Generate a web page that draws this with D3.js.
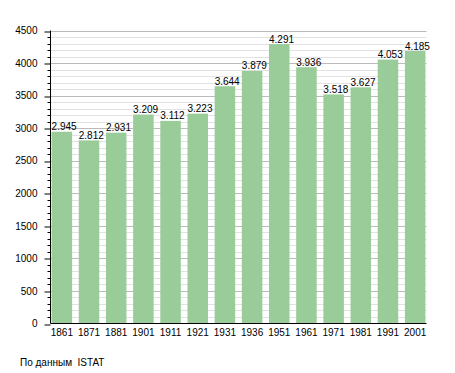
<!DOCTYPE html>
<html><head><meta charset="utf-8">
<script src="https://cdn.jsdelivr.net/npm/d3@7"></script>
<style>body{margin:0;background:#fff}svg{display:block}text{font-family:"Liberation Sans",Arial,sans-serif}</style>
</head><body>
<svg id="c" width="455" height="373"></svg>
<script>
const years = ["1861","1871","1881","1901","1911","1921","1931","1936","1951","1961","1971","1981","1991","2001"];
const population = [2945,2812,2931,3209,3112,3223,3644,3879,4291,3936,3518,3627,4053,4185];
const yMajorTicks = [0,500,1000,1500,2000,2500,3000,3500,4000,4500];
const sourceNote = "По данным  ISTAT";

(function(){
const svg = d3.select("#c");
const mLeft = 50.5, mRight = 426.5, mTop = 30.5, mBottom = 323.5;
const fs = 10;
const x = d3.scaleBand().domain(years).range([mLeft, mRight]).paddingInner(0.245).paddingOuter(0.04);
const y = d3.scaleLinear().domain([0,4500]).range([mBottom, mTop]);
const minorTicks = d3.range(0, 4501, 100).filter(v => v % 500 !== 0);

svg.append("g").selectAll("line").data(minorTicks).join("line")
  .attr("x1", mLeft).attr("x2", mRight).attr("y1", d => Math.round(y(d))+0.5).attr("y2", d => Math.round(y(d))+0.5)
  .attr("stroke", "#e2e2e2").attr("stroke-width", 1);
svg.append("g").selectAll("line").data(yMajorTicks.filter(d=>d>0)).join("line")
  .attr("x1", mLeft).attr("x2", mRight).attr("y1", d => Math.round(y(d))+0.5).attr("y2", d => Math.round(y(d))+0.5)
  .attr("stroke", "#bbbbbb").attr("stroke-width", 1);

svg.append("g").selectAll("rect").data(years).join("rect")
  .attr("x", d => x(d)).attr("width", x.bandwidth())
  .attr("y", (d,i) => y(population[i])).attr("height", (d,i) => mBottom - y(population[i]))
  .attr("fill", "#99cc99");

const fmt = v => d3.format(",")(v).replace(/,/g, ".");
svg.append("g").selectAll("text").data(years).join("text")
  .attr("x", d => x(d)).attr("y", (d,i) => y(population[i]) - 1.5)
  .attr("text-anchor", "start").attr("font-size", fs).attr("fill", "#000")
  .text((d,i) => fmt(population[i]));

const yAxis = svg.append("g").attr("transform", `translate(${mLeft},0)`);
yAxis.selectAll("line.minor").data(minorTicks).join("line").attr("class","minor")
  .attr("x1", -3).attr("x2", 0).attr("y1", d => Math.round(y(d))+0.5).attr("y2", d => Math.round(y(d))+0.5)
  .attr("stroke", "#000");
yAxis.call(d3.axisLeft(y).tickValues(yMajorTicks).tickSize(6).tickPadding(7).tickFormat(d3.format("d")))
  .call(g => g.select(".domain").attr("d", `M0,${mTop}V${mBottom}`))
  .call(g => g.selectAll(".tick line").attr("transform", d => `translate(0,${Math.round(y(d))+0.5 - y(d)})`))
  .call(g => g.selectAll("text").attr("font-size", fs).attr("font-family", '"Liberation Sans",Arial,sans-serif').attr("fill","#000"));

const xAxis = svg.append("g").attr("transform", `translate(0,${mBottom})`);
xAxis.call(d3.axisBottom(x).tickSize(0).tickPadding(5))
  .call(g => g.select(".domain").attr("d", `M${mLeft},0H${mRight}`).attr("stroke","#000"))
  .call(g => g.selectAll("text").attr("font-size", fs).attr("font-family", '"Liberation Sans",Arial,sans-serif').attr("fill","#000"));

svg.append("text").attr("x", 20).attr("y", 365.5).attr("font-size", fs).attr("fill", "#000")
  .style("white-space", "pre").text(sourceNote);
})();
</script>
</body></html>
